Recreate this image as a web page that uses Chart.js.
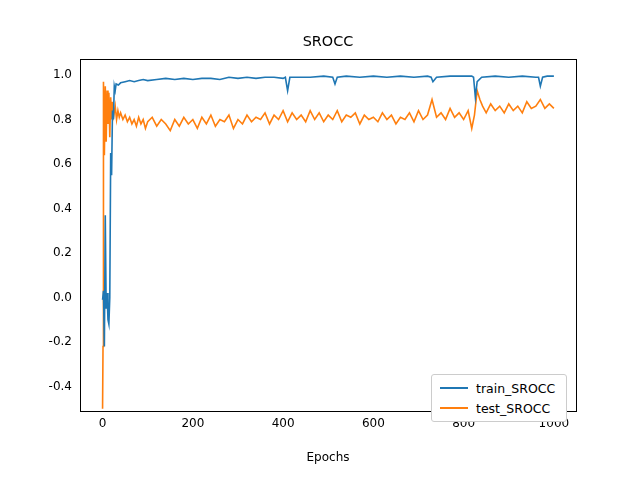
<!DOCTYPE html>
<html>
<head>
<meta charset="utf-8">
<script src="https://cdn.jsdelivr.net/npm/chart.js@4.4.1/dist/chart.umd.min.js"></script>
<style>
	body { margin: 0; background: #fff; }
	#wrap { position: relative; width: 640px; height: 480px; }
	#title { position: absolute; left: 80px; width: 496px; top: 33px; text-align: center; font: 14.4px "DejaVu Sans", sans-serif; color: #000; }
	#legend { position: absolute; left: 431px; top: 374px; width: 134px; border: 1px solid #ccc; border-radius: 3px; background: #fff;
		font: 12.5px "DejaVu Sans", sans-serif; color: #000; padding: 3px 0; }
	#legend div { display: flex; align-items: center; height: 20px; }
	#legend i { display: inline-block; width: 28px; height: 2px; margin: 0 8px 0 8px; }
</style>
</head>
<body>
<div id="wrap">
	<canvas id="chart" width="640" height="480"></canvas>
	<div id="title">SROCC</div>
	<div id="legend">
		<div><i style="background:#1f77b4"></i>train_SROCC</div>
		<div><i style="background:#ff7f0e"></i>test_SROCC</div>
	</div>
</div>
<script>
// epochs and values
const TRAIN_EPOCHS = [0, 2, 4, 6, 8, 10, 12, 14, 16, 18, 20, 22, 24, 26, 28, 30, 35, 40, 50, 60, 70, 80, 90, 100, 120, 140, 160, 180, 200, 220, 240, 260, 280, 300, 320, 340, 360, 380, 400, 405, 410, 415, 430, 460, 490, 510, 515, 520, 540, 570, 600, 630, 660, 690, 720, 728, 732, 740, 770, 800, 818, 822, 826, 830, 840, 870, 900, 930, 960, 966, 970, 975, 985, 1000];
const TRAIN_SROCC = [-0.01, 0.03, -0.22, 0.37, -0.05, 0.02, -0.1, -0.12, 0.0, 0.65, 0.55, 0.84, 0.8, 0.95, 0.93, 0.96, 0.955, 0.965, 0.97, 0.975, 0.97, 0.975, 0.98, 0.975, 0.98, 0.985, 0.98, 0.985, 0.98, 0.985, 0.985, 0.98, 0.99, 0.985, 0.99, 0.985, 0.99, 0.99, 0.985, 0.99, 0.93, 0.99, 0.99, 0.99, 0.995, 0.99, 0.96, 0.99, 0.995, 0.99, 0.995, 0.99, 0.995, 0.99, 0.995, 0.99, 0.97, 0.99, 0.995, 0.995, 0.995, 0.99, 0.9, 0.97, 0.99, 0.995, 0.99, 0.995, 0.99, 0.99, 0.95, 0.99, 0.995, 0.995];

const TEST_EPOCHS = [0, 1, 2, 4, 6, 8, 10, 12, 14, 16, 18, 20, 22, 25, 28, 31, 34, 37, 40, 45, 50, 55, 60, 65, 70, 75, 80, 85, 90, 95, 100, 110, 120, 130, 140, 150, 160, 170, 180, 190, 200, 210, 220, 230, 240, 250, 260, 270, 280, 290, 300, 310, 320, 330, 340, 350, 360, 370, 380, 390, 400, 410, 420, 430, 440, 450, 460, 470, 480, 490, 500, 510, 520, 530, 540, 550, 560, 570, 580, 590, 600, 610, 620, 630, 640, 650, 660, 670, 680, 690, 700, 710, 720, 730, 740, 750, 760, 770, 780, 790, 800, 810, 818, 824, 830, 836, 842, 850, 860, 870, 880, 890, 900, 910, 920, 930, 940, 950, 960, 970, 980, 990, 1000];
const TEST_SROCC = [-0.5, -0.22, 0.97, 0.64, 0.95, 0.7, 0.93, 0.78, 0.92, 0.72, 0.9, 0.8, 0.88, 0.82, 0.86, 0.8, 0.84, 0.81, 0.83, 0.8, 0.82, 0.79, 0.81, 0.78, 0.8, 0.77, 0.81, 0.78, 0.8, 0.76, 0.79, 0.81, 0.77, 0.8, 0.78, 0.75, 0.8, 0.77, 0.81, 0.78, 0.8, 0.76, 0.81, 0.78, 0.82, 0.77, 0.8, 0.79, 0.82, 0.76, 0.8, 0.78, 0.82, 0.79, 0.81, 0.8, 0.83, 0.78, 0.82, 0.8, 0.84, 0.79, 0.83, 0.8, 0.82, 0.79, 0.84, 0.8, 0.83, 0.79, 0.82, 0.8, 0.84, 0.79, 0.82, 0.81, 0.83, 0.78, 0.82, 0.8, 0.81, 0.79, 0.83, 0.8, 0.82, 0.78, 0.81, 0.8, 0.83, 0.79, 0.84, 0.8, 0.82, 0.89, 0.81, 0.83, 0.8, 0.85, 0.81, 0.83, 0.8, 0.84, 0.76, 0.82, 0.93, 0.89, 0.86, 0.83, 0.87, 0.84, 0.86, 0.83, 0.87, 0.84, 0.86, 0.83, 0.88, 0.85, 0.86, 0.89, 0.85, 0.87, 0.85];

const X_TICKS = [0, 200, 400, 600, 800, 1000];
const Y_TICKS = [-0.4, -0.2, 0.0, 0.2, 0.4, 0.6, 0.8, 1.0];

const FONT = { family: "DejaVu Sans", size: 12 };
const toPoints = (xs, ys) => xs.map((x, i) => ({ x, y: ys[i] }));

// Box round the plot area, like matplotlib spines
const frame = {
	id: "frame",
	afterDraw: (chart) => {
		const { ctx, chartArea: a } = chart;
		ctx.save();
		ctx.strokeStyle = "#000";
		ctx.lineWidth = 1;
		ctx.strokeRect(a.left + 0.5, a.top + 0.5, a.right - a.left, a.bottom - a.top);
		ctx.restore();
	},
};

new Chart(document.getElementById("chart"), {
	type: "line",
	data: {
		datasets: [
			{ label: "train_SROCC", data: toPoints(TRAIN_EPOCHS, TRAIN_SROCC), borderColor: "#1f77b4", borderWidth: 1.6, pointRadius: 0, tension: 0 },
			{ label: "test_SROCC", data: toPoints(TEST_EPOCHS, TEST_SROCC), borderColor: "#ff7f0e", borderWidth: 1.6, pointRadius: 0, tension: 0 },
		],
	},
	options: {
		responsive: false,
		animation: false,
		layout: { padding: { left: 0, right: 64, top: 59, bottom: 11 } },
		scales: {
			x: {
				type: "linear",
				min: -50,
				max: 1049,
				grid: { display: false, tickLength: 4, color: "#000" },
				border: { color: "#000" },
				afterBuildTicks: (s) => { s.ticks = X_TICKS.map((v) => ({ value: v })); },
				ticks: { font: FONT, color: "#000", maxRotation: 0, padding: 2, callback: (v) => String(v) },
				title: { display: true, text: "Epochs", font: FONT, color: "#000", padding: { top: 2 } },
				afterFit: (s) => { s.height = 58; },
			},
			y: {
				min: -0.51,
				max: 1.072,
				grid: { display: false, tickLength: 4, color: "#000" },
				border: { color: "#000" },
				afterBuildTicks: (s) => { s.ticks = Y_TICKS.map((v) => ({ value: v })); },
				ticks: { font: FONT, color: "#000", padding: 4, callback: (v) => v.toFixed(1) },
				afterFit: (s) => { s.width = 80; },
			},
		},
		plugins: {
			legend: { display: false },
			tooltip: { enabled: false },
		},
	},
	plugins: [frame],
});
</script>
</body>
</html>
